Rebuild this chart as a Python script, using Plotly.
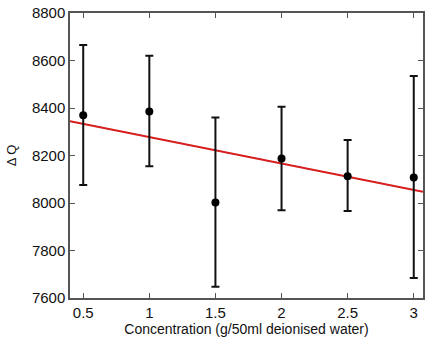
import numpy as np
import plotly.graph_objects as go

conc = [0.5, 1.0, 1.5, 2.0, 2.5, 3.0]
delta_q = [8370, 8385, 8002, 8187, 8113, 8107]
err_up = [295, 235, 358, 218, 152, 428]
err_down = [294, 230, 355, 217, 147, 423]
x_ticks = [0.5, 1, 1.5, 2, 2.5, 3]
x_tick_labels = ["0.5", "1", "1.5", "2", "2.5", "3"]
y_ticks = [7600, 7800, 8000, 8200, 8400, 8600, 8800]
x_range = [0.4, 3.07]
y_range = [7600, 8800]

slope, intercept = np.polyfit(conc, delta_q, 1)
fit_x = np.array(x_range)
fit_y = slope * fit_x + intercept

fig = go.Figure()
fig.add_trace(go.Scatter(
    x=fit_x, y=fit_y, mode="lines",
    line=dict(color="#d81c1c", width=2), showlegend=False, hoverinfo="skip"))
fig.add_trace(go.Scatter(
    x=conc, y=delta_q, mode="markers", cliponaxis=False,
    marker=dict(color="black", size=8),
    error_y=dict(type="data", symmetric=False, array=err_up, arrayminus=err_down,
                 color="#111111", thickness=2, width=4),
    showlegend=False))

axis_common = dict(
    showgrid=False, zeroline=False, showline=True, linecolor="#555555", linewidth=1.5,
    mirror="ticks", ticks="inside", ticklen=5, tickcolor="#555555", tickwidth=1,
    automargin=False, ticklabeloverflow="allow",
    tickfont=dict(family="Liberation Sans, Arial, sans-serif", size=15, color="#111111"),
)
fig.update_xaxes(range=x_range, tickvals=x_ticks, ticktext=x_tick_labels,
                 title=dict(text="Concentration (g/50ml deionised water)",
                            font=dict(family="Liberation Sans, Arial, sans-serif", size=14, color="#111111"),
                            standoff=0),
                 **axis_common)
fig.update_yaxes(range=y_range, tickvals=y_ticks,
                 title=dict(text="Δ Q",
                            font=dict(family="Liberation Sans, Arial, sans-serif", size=13, color="#111111"),
                            standoff=12),
                 **axis_common)
fig.update_layout(
    width=427, height=343,
    margin=dict(l=70, r=4, t=13, b=45),
    plot_bgcolor="white", paper_bgcolor="white",
)
fig.write_html("out.html", config={"displayModeBar": False},
               post_script="document.body.style.margin='0';document.body.style.overflow='hidden';")
